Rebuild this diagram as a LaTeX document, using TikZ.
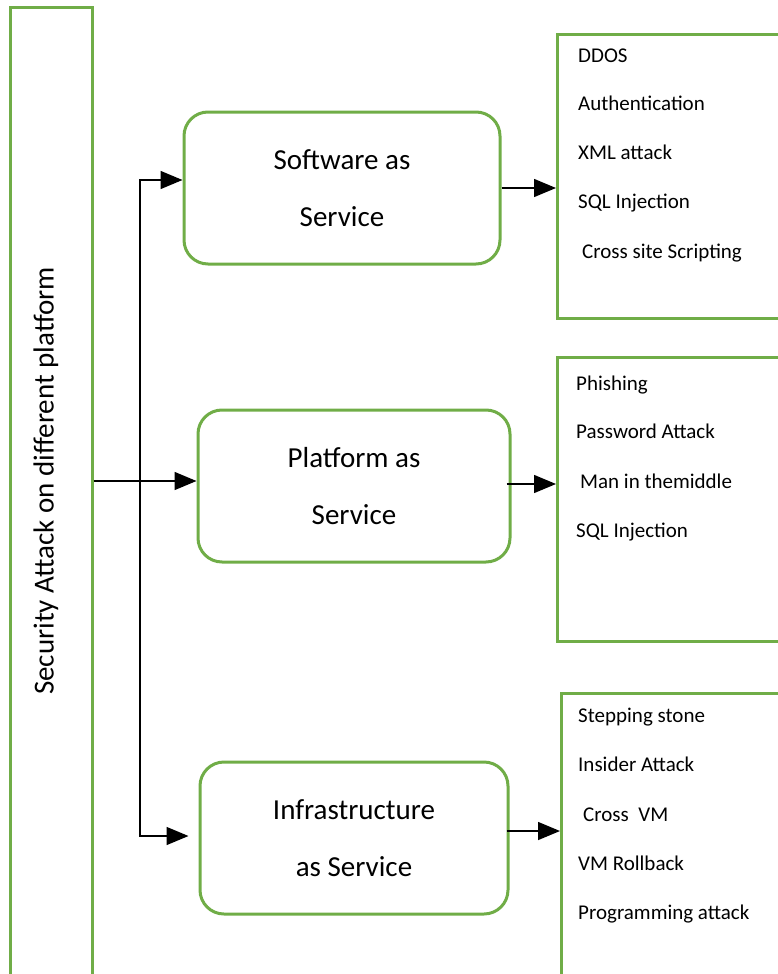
\documentclass[tikz,border=0pt]{standalone}
\usepackage{fontspec}
\setmainfont{Carlito}
\usetikzlibrary{arrows.meta}
\definecolor{boxgreen}{RGB}{112,173,71}

\begin{document}
\begin{tikzpicture}[x=1pt,y=-1pt]
  \tikzstyle{Frame}=[draw=boxgreen,line width=3pt]
  \tikzstyle{Service}=[Frame,rounded corners=24pt,minimum height=152pt,align=center,font=\fontsize{29}{57}\selectfont]
  \tikzstyle{AttackList}=[Frame,minimum width=260pt,anchor=north west]
  \tikzstyle{Item}=[anchor=base west,inner sep=0pt,font=\fontsize{21}{25}\selectfont]
  \tikzstyle{Link}=[line width=1.5pt,-{Triangle[length=22pt,width=18pt]}]

  \clip (0,0) rectangle (778,974);

  \node[Frame,minimum width=82pt,minimum height=992pt] (sec) at (51,504) {};
  \node[rotate=90,font=\fontsize{29}{34}\selectfont] (secText) at (46,481) {Security Attack on different platform};

  \node[Service,minimum width=316pt] (saas) at (342,188) {Software as\\Service};
  \node[Service,minimum width=312pt] (paas) at (354,486) {Platform as\\Service};
  \node[Service,minimum width=308pt] (iaas) at (354,838) {Infrastructure\\as Service};

  \node[AttackList,minimum height=284pt] (saasList) at (556,33) {};
  \node[AttackList,minimum height=284pt] (paasList) at (556,356) {};
  \node[AttackList,minimum height=320pt] (iaasList) at (560,692) {};

  % software attacks
  \node[Item] (s1) at (578,63)  {DDOS};
  \node[Item] (s2) at (578,110) {Authentication};
  \node[Item] (s3) at (578,159) {XML attack};
  \node[Item] (s4) at (578,208) {SQL Injection};
  \node[Item] (s5) at (582,258) {Cross site Scripting};

  % platform attacks
  \node[Item] (p1) at (576,390) {Phishing};
  \node[Item] (p2) at (576,438) {Password Attack};
  \node[Item] (p3) at (580,488) {Man in themiddle};
  \node[Item] (p4) at (576,537) {SQL Injection};

  % infrastructure attacks
  \node[Item] (i1) at (578,722) {Stepping stone};
  \node[Item] (i2) at (578,771) {Insider Attack};
  \node[Item] (i3) at (583,821) {Cross\ \ VM};
  \node[Item] (i4) at (578,870) {VM Rollback};
  \node[Item] (i5) at (578,919) {Programming attack};

  \coordinate (split) at (140,481);
  \draw[line width=1.5pt] (sec.east |- split) -- (split);
  \draw[Link] (split) |- ([yshift=8pt]saas.west);
  \draw[Link] (split) -- (paas.west |- split);
  \draw[Link] (split) |- ([xshift=-10pt,yshift=2pt]iaas.west);

  \draw[Link] (saas.east) -- (saas.east -| saasList.west);
  \draw[Link] ([xshift=-5pt,yshift=2pt]paas.east) -- ([yshift=2pt]paas.east -| paasList.west);
  \draw[Link] ([xshift=-3pt,yshift=7pt]iaas.east) -- ([yshift=7pt]iaas.east -| iaasList.west);
\end{tikzpicture}
\end{document}
